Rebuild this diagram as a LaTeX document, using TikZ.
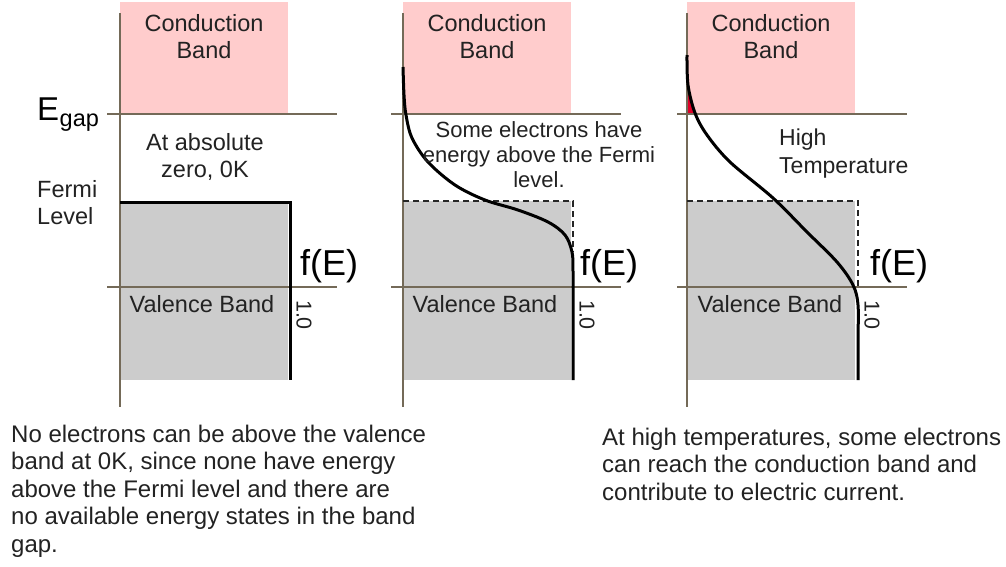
\documentclass[tikz,border=0pt]{standalone}
\usepackage{fontspec}
\setmainfont{Liberation Sans}
\definecolor{pinkband}{RGB}{255,204,204}
\definecolor{grayband}{RGB}{204,204,204}
\definecolor{axisc}{RGB}{116,106,88}
\definecolor{txt}{RGB}{34,34,34}
\definecolor{hot}{RGB}{224,0,40}
\begin{document}
\begin{tikzpicture}[x=1pt,y=-1pt,
  axisline/.style={draw=axisc,line width=2pt},
  fermiline/.style={draw=black,line width=3pt},
  dashline/.style={draw=black!85,line width=1.3pt,dash pattern=on 6pt off 4pt},
  lbl/.style={inner sep=0pt,text=txt,font=\fontsize{23.5}{27.5}\selectfont,align=center},
  small/.style={inner sep=0pt,text=txt,font=\fontsize{21.5}{25}\selectfont},
  mid/.style={inner sep=0pt,text=txt,font=\fontsize{23.5}{27.5}\selectfont},
  big/.style={inner sep=0pt,text=black,font=\fontsize{36}{40}\selectfont},
  para/.style={inner sep=0pt,text=txt,font=\fontsize{24}{27.5}\selectfont,align=left}]
\useasboundingbox (0,0) rectangle (1006,566);

% bands
\fill[pinkband] (120,2) rectangle (288,114);
\fill[pinkband] (403,2) rectangle (571,114);
\fill[pinkband] (687,2) rectangle (855,114);
\fill[grayband] (120,202) rectangle (288,380);
\fill[grayband] (403,201) rectangle (571,380);
\fill[grayband] (687,201) rectangle (855,380);

% red region (electrons in conduction band)
\fill[hot] (687,80) -- (688,88) -- (691,100) -- (695,114) -- (687,114) -- cycle;

% axes
\draw[axisline] (120,13) -- (120,407);
\draw[axisline] (403,13) -- (403,407);
\draw[axisline] (687,13) -- (687,407);
\draw[axisline] (107,114) -- (337,114);
\draw[axisline] (391,114) -- (621,114);
\draw[axisline] (677,114) -- (907,114);
\draw[axisline] (107,287) -- (337,287);
\draw[axisline] (391,287) -- (621,287);
\draw[axisline] (677,287) -- (907,287);

% dashed step functions
\draw[dashline] (403,201) -- (573,201) -- (573,252);
\draw[dashline] (687,201) -- (858,201) -- (858,288);

% Fermi functions
\draw[fermiline] (120,202) -- (290,202) -- (290,380);
\draw[fermiline,line join=round] plot[smooth,tension=0.55] coordinates
  {(403,67) (404,95) (406,115) (412,138) (428,162) (455,185) (485,200) (518,210) (548,222) (565,235) (572,252) (573,272) (573,320) (573,380)};
\draw[fermiline,line join=round] plot[smooth,tension=0.55] coordinates
  {(687,55) (688,85) (695,113) (707,135) (730,162) (773,198) (807,232) (837,262) (853,285) (858,305) (858,340) (858,380)};

% panel 1 labels
\node[lbl,anchor=north] (cb1) at (204,14) {Conduction\\Band};
\node[lbl,anchor=north] (abs) at (205,133) {At absolute\\zero, 0K};
\node[lbl,anchor=north west,align=left] (fermi) at (37,180) {Fermi\\Level};
\node[inner sep=0pt,anchor=base west,text=black] (egap) at (37,120)
  {{\fontsize{33}{38}\selectfont E}\kern0.5pt\raisebox{-6pt}{\fontsize{23.5}{26}\selectfont gap}};
\node[big,anchor=base west] (fe1) at (300,275) {f(E)};
\node[mid,anchor=base] (vb1) at (202,312) {Valence Band};
\node[small,rotate=-90] (one1) at (304,315) {1.0};

% panel 2 labels
\node[lbl,anchor=north] (cb2) at (487,14) {Conduction\\Band};
\node[inner sep=0pt,text=txt,font=\fontsize{22}{25}\selectfont,anchor=north,align=center] (some) at (539,121) {Some electrons have\\energy above the Fermi\\level.};
\node[big,anchor=base west] (fe2) at (580,275) {f(E)};
\node[mid,anchor=base] (vb2) at (485,312) {Valence Band};
\node[small,rotate=-90] (one2) at (587,315) {1.0};

% panel 3 labels
\node[lbl,anchor=north] (cb3) at (771,14) {Conduction\\Band};
\node[inner sep=0pt,text=txt,font=\fontsize{23}{28}\selectfont,anchor=north west,align=left] (high) at (779,129) {High\\Temperature};
\node[big,anchor=base west] (fe3) at (870,275) {f(E)};
\node[mid,anchor=base] (vb3) at (770,312) {Valence Band};
\node[small,rotate=-90] (one3) at (872,315) {1.0};

% captions
\node[para,anchor=north west] (cap1) at (11,424.5) {No electrons can be above the valence\\band at 0K, since none have energy\\above the Fermi level and there are\\no available energy states in the band\\gap.};
\node[para,anchor=north west] (cap2) at (602,427.5) {At high temperatures, some electrons\\can reach the conduction band and\\contribute to electric current.};
\end{tikzpicture}
\end{document}
